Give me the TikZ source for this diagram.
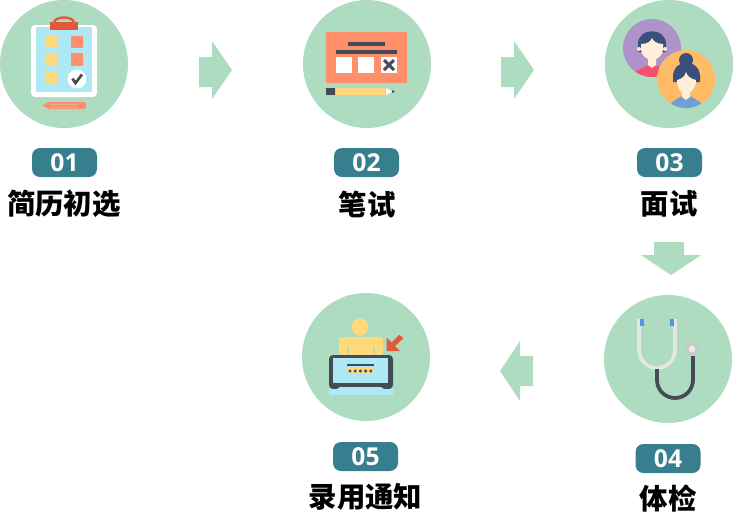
\documentclass[tikz,border=0pt]{standalone}
\usepackage{fontspec}
\newfontfamily\cjk{Noto Sans CJK SC}
\newfontfamily\badgefont{Open Sans}
\definecolor{mint}{HTML}{AEDCC0}
\definecolor{teal}{HTML}{377F8F}
\definecolor{paleblue}{HTML}{AEE8F5}
\definecolor{sand}{HTML}{FFD97A}
\definecolor{coral}{HTML}{FF8F6B}
\definecolor{brick}{HTML}{E0593A}
\definecolor{slate}{HTML}{434B57}
\definecolor{violet}{HTML}{AE93CB}
\definecolor{apricot}{HTML}{FFBB66}
\definecolor{navy}{HTML}{3B4F7C}
\definecolor{skin}{HTML}{FFEFD9}
\definecolor{rosered}{HTML}{F8506A}
\definecolor{shirt}{HTML}{6CA0D6}
\definecolor{earpiece}{HTML}{4D96EE}
\tikzset{
    stagecircle/.style={circle,fill=mint,minimum size=96pt,inner sep=0pt},
    stagebadge/.style={fill=teal,rounded corners=6pt,minimum width=48.75pt,minimum height=21.75pt,inner sep=0pt,text=white,font=\badgefont\bfseries\fontsize{18.5}{18.5}\selectfont},
    stagename/.style={inner sep=0pt,font=\cjk\bfseries\fontsize{21.3}{21.3}\selectfont},
    flowarrow/.style={fill=mint}
}

\begin{document}
\begin{tikzpicture}[x=0.75pt,y=-0.75pt]
    \useasboundingbox (0,0) rectangle (733,512);

    \node[stagecircle] (resume) at (64,64) {};
    \node[stagecircle] (written) at (367,64) {};
    \node[stagecircle] (interview) at (669,64) {};
    \node[stagecircle] (checkup) at (668,359) {};
    \node[stagecircle] (notice) at (366,357) {};

    \node[stagebadge] (badgea) at (64.5,162.5) {01};
    \node[stagebadge] (badgeb) at (366.5,162.5) {02};
    \node[stagebadge] (badgec) at (669.5,162.5) {03};
    \node[stagebadge] (badged) at (668,458.5) {04};
    \node[stagebadge] (badgee) at (365.5,456.5) {05};

    \node[stagename] (namea) at (64,204) {简历初选};
    \node[stagename] (nameb) at (367,204) {笔试};
    \node[stagename] (namec) at (669,204) {面试};
    \node[stagename] (named) at (668,498) {体检};
    \node[stagename] (namee) at (365.5,497) {录用通知};

    \fill[flowarrow] (199,57) -- (212,57) -- (212,41) -- (232,70) -- (212,99) -- (212,87) -- (199,87) -- cycle;
    \fill[flowarrow] (501,57) -- (514,57) -- (514,41) -- (534,70) -- (514,99) -- (514,87) -- (501,87) -- cycle;
    \fill[flowarrow] (654,242) -- (684,242) -- (684,255) -- (701,255) -- (671,275) -- (641,255) -- (654,255) -- cycle;
    \fill[flowarrow] (533,356) -- (520,356) -- (520,341) -- (500,371) -- (520,401) -- (520,386) -- (533,386) -- cycle;

    \fill[white,rounded corners=3pt] (31,25) rectangle (97,97);
    \fill[paleblue] (36,27) rectangle (92,92);
    \draw[brick,line width=1.8pt] (54,22) .. controls (56,16) and (72,16) .. (74,22);
    \fill[brick] (50,22) rectangle (78,30);
    \fill[sand] (45,36) rectangle (57,48);
    \fill[sand] (45,53) rectangle (57,66);
    \fill[sand] (45,71) rectangle (57,83);
    \fill[coral] (71,36) rectangle (83,48);
    \fill[coral] (71,53) rectangle (83,66);
    \fill[white] (77,79) circle[radius=9.5];
    \draw[slate,line width=2pt] (72.5,78.5) -- (75.5,83) -- (82,74.5);
    \fill[coral,rounded corners=1.5pt] (48,102) -- (86,102) -- (86,109) -- (48,109) -- (48,102);
    \fill[coral] (49,102) -- (42,105.5) -- (49,109) -- cycle;
    \draw[paleblue!40!coral,line width=0.4pt] (50,104) -- (78,104) (50,107) -- (78,107);

    \fill[coral] (326,32) rectangle (407,83);
    \draw[slate,line width=2.5pt] (348,44) -- (385,44);
    \draw[slate,line width=2.5pt] (336,52) -- (397,52);
    \fill[white] (336,57) rectangle (352,73);
    \fill[white] (358,57) rectangle (374,73);
    \fill[white] (381,57) rectangle (397,73);
    \draw[slate,line width=2.2pt] (384,60) -- (394,70) (394,60) -- (384,70);
    \fill[slate] (326,88) rectangle (335,95);
    \fill[sand] (336,88) rectangle (385,95);
    \fill[white] (386,88) -- (392,91.5) -- (386,95) -- cycle;
    \fill[slate] (392,90) -- (395,91.5) -- (392,93) -- cycle;

    \fill[violet] (652,48) circle[radius=29];
    \begin{scope}
        \clip (652,48) circle[radius=29];
        \fill[rosered] (634,78) -- (636,71) -- (646,66) -- (658,66) -- (668,71) -- (670,78) -- cycle;
    \end{scope}
    \fill[navy] (638,52) -- (638,44) .. controls (638,27) and (666,27) .. (666,44) -- (666,52) -- cycle;
    \fill[skin] (639,49) circle[radius=2];
    \fill[skin] (665,49) circle[radius=2];
    \fill[skin] (648,56) -- (656,56) -- (656,65) -- (652,68) -- (648,65) -- cycle;
    \fill[skin] (641,44) .. controls (648,44) and (651,41) .. (652,38) .. controls (653,41) and (657,44) .. (663,44) -- (663,50) .. controls (663,56) and (656,60) .. (652,60) .. controls (648,60) and (641,56) .. (641,50) -- cycle;

    \fill[apricot] (686,79) circle[radius=29];
    \begin{scope}
        \clip (686,79) circle[radius=29];
        \fill[shirt] (669,110) -- (672,102) -- (682,96) -- (690,96) -- (700,102) -- (704,110) -- cycle;
    \end{scope}
    \fill[navy] (686,60) circle[radius=7];
    \fill[navy] (673,82) -- (673,76) .. controls (674,58) and (699,58) .. (700,76) -- (700,82) -- cycle;
    \fill[skin] (682,90) -- (690,90) -- (690,97) -- (686,100) -- (682,97) -- cycle;
    \fill[skin] (677,80) .. controls (682,79) and (685,76) .. (686,72) .. controls (687,76) and (691,79) .. (696,80) .. controls (696,88) and (691,94) .. (686,94) .. controls (681,94) and (677,88) .. (677,80) -- cycle;

    \draw[black!10,line width=2.8pt] (639,319) -- (639,350) arc (180:0:18) -- (675,319);
    \fill[earpiece] (640,319) rectangle (644,326);
    \fill[earpiece] (670,319) rectangle (674,326);
    \draw[slate,line width=2.8pt] (657,369) -- (657,380) arc (180:0:18) -- (693,356);
    \fill[black!22] (692,349) circle[radius=6.5];
    \fill[black!8] (692,349) circle[radius=3.5];

    \fill[sand] (360,327) circle[radius=8.5];
    \fill[sand,rounded corners=2pt] (339,355) -- (339,337) -- (383,337) -- (383,355) -- cycle;
    \fill[mint] (347,347) rectangle (349,355);
    \fill[mint] (373,347) rectangle (375,355);
    \fill[slate,rounded corners=3pt] (329,389) -- (329,355) -- (393,355) -- (393,389) -- cycle;
    \fill[paleblue] (333,358) rectangle (388,383);
    \fill[paleblue] (329,389) -- (337,389) -- (340,387) -- (381,387) -- (384,389) -- (393,389) -- (393,395) -- (329,395) -- cycle;
    \draw[slate,line width=1.8pt] (347,365) -- (374,365);
    \fill[sand] (347,368) rectangle (374,374);
    \fill[slate] (350,371) circle[radius=1.7];
    \fill[slate] (355.2,371) circle[radius=1.7];
    \fill[slate] (360.4,371) circle[radius=1.7];
    \fill[slate] (365.6,371) circle[radius=1.7];
    \fill[slate] (370.8,371) circle[radius=1.7];
    \fill[brick] (386.7,337.7) -- (386.7,351) -- (400,351) -- (395,346) -- (403.3,338.3) -- (399.3,334.7) -- (391.7,342.3) -- cycle;
\end{tikzpicture}
\end{document}
